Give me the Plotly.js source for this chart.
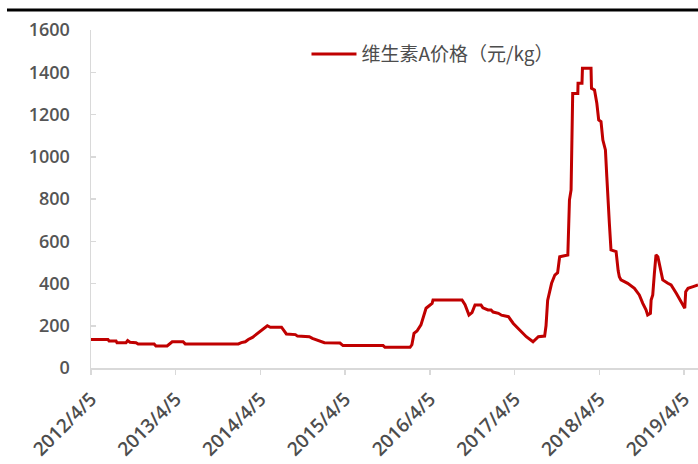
<!DOCTYPE html>
<html>
<head>
<meta charset="utf-8">
<script src="https://cdn.plot.ly/plotly-3.0.1.min.js"></script>
<style>html,body{margin:0;padding:0;background:#fff;}#chart{width:698px;height:464px;}</style>
</head>
<body>
<div id="chart"></div>
<script>
// Series: 维生素A价格（元/kg）
var dates = [
  '2012-04-05','2012-06-17','2012-06-22','2012-07-22','2012-07-26','2012-09-03','2012-09-10','2012-09-20',
  '2012-10-16','2012-10-25','2013-01-02','2013-01-10','2013-02-27','2013-03-12','2013-03-21','2013-05-07',
  '2013-05-16','2013-12-31','2014-01-13','2014-01-30','2014-02-12','2014-03-02','2014-03-19','2014-04-05',
  '2014-04-22','2014-05-05','2014-05-18','2014-07-05','2014-07-26','2014-09-03','2014-09-12','2014-11-02',
  '2014-11-15','2014-12-11','2015-01-06','2015-03-14','2015-03-27','2015-09-16','2015-09-24','2016-01-10',
  '2016-01-18','2016-01-27','2016-02-09','2016-02-26','2016-03-19','2016-03-27','2016-04-03','2016-04-14',
  '2016-04-18','2016-08-21','2016-09-03','2016-09-20','2016-10-03','2016-10-16','2016-11-11','2016-11-19',
  '2016-12-11','2016-12-24','2017-01-02','2017-01-25','2017-02-07','2017-03-09','2017-03-30','2017-04-25',
  '2017-05-25','2017-06-23','2017-07-08','2017-07-16','2017-08-12','2017-08-18','2017-08-25','2017-09-02',
  '2017-09-11','2017-09-25','2017-10-07','2017-10-14','2017-10-16','2017-11-20','2017-11-27','2017-12-04',
  '2017-12-08','2017-12-11','2018-01-02','2018-01-03','2018-01-20','2018-01-22','2018-02-28','2018-03-02',
  '2018-03-15','2018-03-25','2018-04-02','2018-04-12','2018-04-20','2018-05-01','2018-05-07','2018-05-11',
  '2018-05-18','2018-05-25','2018-06-16','2018-06-25','2018-06-30','2018-07-07','2018-08-05','2018-09-03',
  '2018-09-24','2018-10-09','2018-10-23','2018-10-30','2018-11-11','2018-11-14','2018-11-21','2018-11-28',
  '2018-12-05','2018-12-13','2018-12-21','2019-01-03','2019-01-25','2019-02-08','2019-03-03','2019-03-25',
  '2019-04-08','2019-04-12','2019-04-22','2019-05-14','2019-06-04'
];
var prices = [
  135,135,128,128,120,120,130,122,
  120,114,114,104,104,118,124,124,
  114,114,120,124,135,145,160,172,
  190,200,193,193,161,158,151,148,
  140,130,120,118,106,106,98,98,
  110,164,175,204,283,290,298,306,
  322,322,300,251,262,298,298,285,
  275,275,265,259,250,243,211,180,
  148,124,140,148,151,200,320,360,
  401,440,451,511,527,535,795,843,
  1253,1300,1300,1348,1348,1419,1419,1324,
  1316,1253,1174,1166,1079,1032,906,843,
  685,559,551,460,432,417,401,377,
  346,306,275,251,259,322,346,448,
  535,527,480,417,401,393,353,314,
  283,361,377,385,393
];
var seriesName = '维生素A价格（元/kg）';
var tickDates = ['2012-04-05','2013-04-05','2014-04-05','2015-04-05','2016-04-05','2017-04-05','2018-04-05','2019-04-05'];
var tickLabels = ['2012/4/5','2013/4/5','2014/4/5','2015/4/5','2016/4/5','2017/4/5','2018/4/5','2019/4/5'];
var yTicks = [0,200,400,600,800,1000,1200,1400,1600];

var trace = {
  x: dates, y: prices, type: 'scatter', mode: 'lines', name: seriesName,
  line: {color: '#c00000', width: 3, shape: 'linear'},
  hoverinfo: 'x+y'
};

var yFont = {family: '"Open Sans", "Liberation Sans", sans-serif', size: 18, color: '#555555', weight: 600};
var xFont = {family: '"Open Sans", "Liberation Sans", sans-serif', size: 19, color: '#4d4d4d', weight: 600};

var layout = {
  width: 698, height: 464,
  margin: {l: 91, r: 0, t: 30, b: 96, pad: 0},
  paper_bgcolor: '#ffffff', plot_bgcolor: '#ffffff',
  showlegend: true,
  legend: {
    x: 0.355, y: 0.985, xanchor: 'left', yanchor: 'top',
    bgcolor: 'rgba(0,0,0,0)', borderwidth: 0,
    font: {family: '"Noto Sans CJK SC", sans-serif', size: 19, color: '#4d4d4d'},
    itemwidth: 45
  },
  xaxis: {
    type: 'date',
    range: ['2012-04-05', '2019-06-04'],
    tickmode: 'array', tickvals: tickDates, ticktext: tickLabels,
    tickangle: -45, tickfont: xFont,
    ticks: 'outside', ticklen: 5, tickcolor: '#d9d9d9', tickwidth: 1.5,
    ticklabelstandoff: 6,
    showline: true, linecolor: '#d9d9d9', linewidth: 1.5,
    showgrid: false, zeroline: false, fixedrange: true
  },
  yaxis: {
    range: [0, 1600],
    tickmode: 'array', tickvals: yTicks,
    tickfont: yFont,
    ticks: 'inside', ticklen: 5, tickcolor: '#d9d9d9', tickwidth: 1.5,
    ticklabelstandoff: 16,
    showline: true, linecolor: '#d9d9d9', linewidth: 1.5,
    showgrid: false, zeroline: false, fixedrange: true
  },
  shapes: [{
    type: 'line', xref: 'paper', yref: 'paper',
    x0: -0.1384, x1: 1.0, y0: 1.0592, y1: 1.0592,
    line: {color: '#000000', width: 3}
  }]
};

Plotly.newPlot('chart', [trace], layout, {staticPlot: true, displayModeBar: false});
</script>
</body>
</html>
